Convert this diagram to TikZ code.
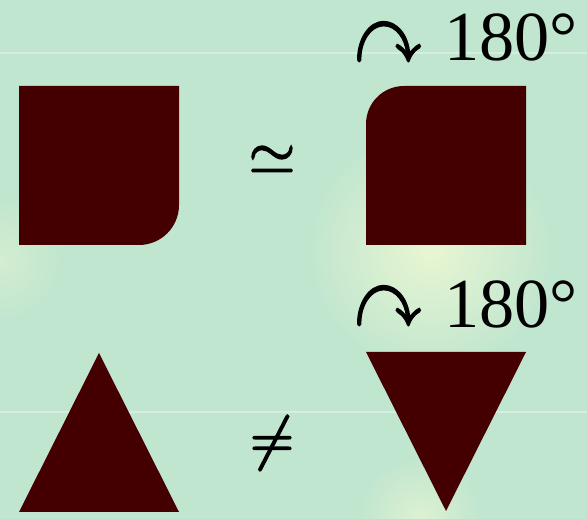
\RequirePackage{fix-cm}
\documentclass[tikz,border=0pt]{standalone}
\usepackage{fontspec}
\setmainfont{Liberation Serif}
\usepackage{amssymb}
\usetikzlibrary{positioning}
\definecolor{Field}{HTML}{C1E6CF}
\definecolor{Glow}{HTML}{E9F6D2}
\definecolor{Ink}{HTML}{440000}
% slightly heavier glyph strokes
\newcommand{\heavy}[1]{\special{pdf:literal direct 2 Tr 0.9 w}#1\special{pdf:literal direct 0 Tr}}
\newcommand{\turnsign}{\scalebox{1.05}[1.35]{\heavy{$\curvearrowright$}}}
\tikzset{tile/.style={fill=Ink},
  relsym/.style={inner sep=0pt,font=\fontsize{34}{40}\selectfont},
  turnarrow/.style={inner sep=0pt,font=\fontsize{36}{40}\selectfont},
  turnangle/.style={inner sep=0pt,font=\fontsize{40}{46}\selectfont},
  seam/.style={draw=white,opacity=.35,line width=1.2pt}}

\begin{document}
\begin{tikzpicture}[x=0.02cm,y=0.02cm]
    \useasboundingbox (0,0) rectangle (587,519);
    \clip (0,0) rectangle (587,519);
    \fill[Field] (0,0) rectangle (587,519);
    % soft glows
    \shade[inner color=Glow,outer color=Field] (430,269) circle (120);
    \shade[inner color=Glow!45!Field,outer color=Field] (0,259) circle (60);
    \shade[inner color=Glow!70!Field,outer color=Field] (420,0) circle (60);
    \draw[seam] (0,466) -- (587,466);
    \draw[seam] (0,107) -- (587,107);
    % squares
    \fill[tile] (19,274) -- (139,274) arc[start angle=-90,end angle=0,radius=40]
      -- (179,433) -- (19,433) -- cycle;
    \fill[tile] (366,274) -- (526,274) -- (526,433) -- (404,433)
      arc[start angle=90,end angle=180,radius=38] -- cycle;
    % triangles
    \fill[tile] (19,7) -- (179,7) -- (99,166) -- cycle;
    \fill[tile] (366,167) -- (526,167) -- (446,8) -- cycle;
    % relations and turns
    \node[relsym] (simeq) at (272,359) {\heavy{$\simeq$}};
    \node[relsym] (neq) at (272,76) {\heavy{$\neq$}};
    \node[turnarrow] (turnA) at (388,476) {\turnsign};
    \node[turnangle] (angleA) at (511,482) {180°};
    \node[turnarrow] (turnB) at (388,212) {\turnsign};
    \node[turnangle] (angleB) at (511,215) {180°};
\end{tikzpicture}
\end{document}
